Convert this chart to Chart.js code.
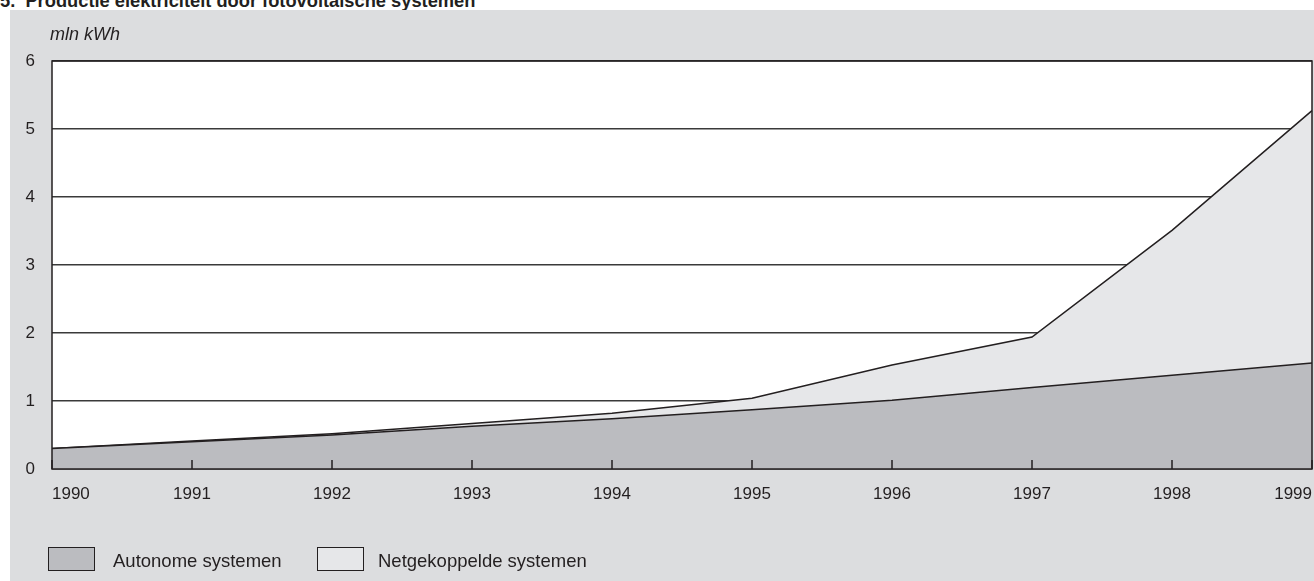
<!DOCTYPE html>
<html>
<head>
<meta charset="utf-8">
<script src="https://cdn.jsdelivr.net/npm/chart.js@4"></script>
<style>
  html, body { margin: 0; padding: 0; background: #fff; overflow: hidden; width: 1314px; height: 581px; }
  body { font-family: "Liberation Sans", Arial, sans-serif; color: #231f20; position: relative; }
  #title { position: absolute; left: 0; top: -10px; font-weight: bold; font-size: 18.3px; line-height: 22px; white-space: nowrap; }
  #panel { position: absolute; left: 10px; top: 10px; width: 1309px; height: 571px; background: #dcdddf; }
  #unit { position: absolute; left: 50px; top: 24px; font-style: italic; font-size: 18px; line-height: 20px; }
  .box { position: absolute; top: 547px; width: 45px; height: 22px; border: 1px solid #231f20; }
  .lab { position: absolute; top: 550px; font-size: 18.5px; line-height: 22px; white-space: nowrap; }
</style>
</head>
<body>
<div id="title">5.&nbsp; Productie elektriciteit door fotovoltaische systemen</div>
<div id="panel"><canvas id="chart" width="1309" height="571"></canvas></div>
<div id="unit">mln kWh</div>
<div class="box" id="box1" style="left:48px"></div>
<div class="lab" id="lab1" style="left:113px"></div>
<div class="box" id="box2" style="left:317px"></div>
<div class="lab" id="lab2" style="left:378px"></div>
<script>
const years = ["1990", "1991", "1992", "1993", "1994", "1995", "1996", "1997", "1998", "1999"];
const autonome = [0.30, 0.40, 0.50, 0.63, 0.74, 0.87, 1.01, 1.20, 1.38, 1.56];
const netgekoppeld = [0.00, 0.01, 0.02, 0.04, 0.08, 0.17, 0.52, 0.74, 2.13, 3.71];
const seriesNames = ["Autonome systemen", "Netgekoppelde systemen"];
const yTicks = [0, 1, 2, 3, 4, 5, 6];

const ink = "#231f20";
const fills = ["#bbbcc0", "#e6e7e9"];

document.getElementById("lab1").textContent = seriesNames[0];
document.getElementById("lab2").textContent = seriesNames[1];
document.getElementById("box1").style.background = fills[0];
document.getElementById("box2").style.background = fills[1];

// white plot area, then frame + inward ticks on top of the areas
const frame = {
  id: "frame",
  beforeDraw(chart) {
    const a = chart.chartArea, ctx = chart.ctx;
    ctx.save();
    ctx.fillStyle = "#fff";
    ctx.fillRect(a.left, a.top, a.right - a.left, a.bottom - a.top);
    ctx.restore();
  },
  afterDatasetsDraw(chart) {
    const a = chart.chartArea, ctx = chart.ctx, x = chart.scales.x;
    ctx.save();
    ctx.strokeStyle = ink;
    ctx.lineWidth = 1.5;
    ctx.strokeRect(a.left, a.top, a.right - a.left, a.bottom - a.top);
    ctx.beginPath();
    years.forEach((y, i) => {
      const px = x.getPixelForValue(i);
      ctx.moveTo(px, a.bottom);
      ctx.lineTo(px, a.bottom - 9);
    });
    ctx.stroke();
    ctx.restore();
  }
};

new Chart(document.getElementById("chart"), {
  type: "line",
  data: {
    labels: years,
    datasets: [
      {
        label: seriesNames[0],
        data: autonome,
        fill: "origin",
        backgroundColor: fills[0],
        borderColor: ink,
        borderWidth: 1.5,
        pointRadius: 0,
        tension: 0
      },
      {
        label: seriesNames[1],
        data: netgekoppeld,
        fill: "-1",
        backgroundColor: fills[1],
        borderColor: ink,
        borderWidth: 1.5,
        pointRadius: 0,
        tension: 0
      }
    ]
  },
  options: {
    responsive: false,
    animation: false,
    layout: { padding: { top: 51, bottom: 82, left: 0, right: 0 } },
    plugins: { legend: { display: false }, tooltip: { enabled: false } },
    scales: {
      x: {
        offset: false,
        grid: { display: false },
        border: { display: false },
        ticks: {
          color: ink,
          font: { family: "Liberation Sans", size: 17 },
          padding: 7,
          align: "inner",
          maxRotation: 0,
          autoSkip: false
        },
        afterFit: s => { s.height = 30; }
      },
      y: {
        stacked: true,
        min: 0,
        max: 6,
        afterBuildTicks: s => { s.ticks = yTicks.map(v => ({ value: v })); },
        grid: { color: "#3a3a3a", lineWidth: 1.5, drawTicks: false },
        border: { display: false },
        ticks: {
          color: ink,
          font: { family: "Liberation Sans", size: 17 },
          padding: 17
        },
        afterFit: s => { s.width = 42; }
      }
    }
  },
  plugins: [frame]
});
</script>
</body>
</html>
